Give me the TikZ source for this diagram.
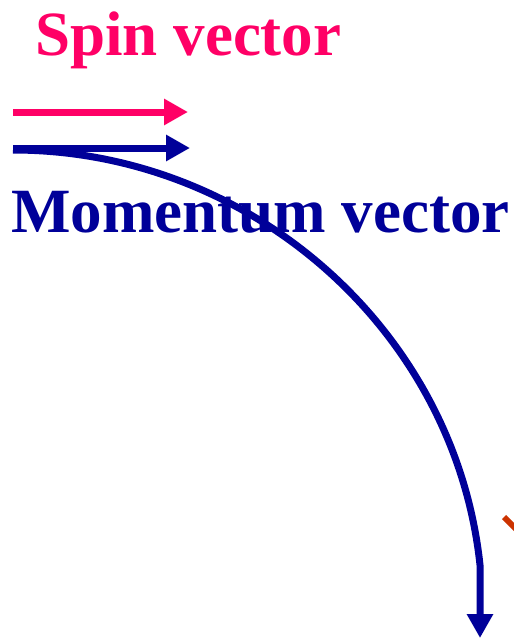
\documentclass[tikz,border=0pt]{standalone}
\usepackage{fontspec}
\setmainfont{Liberation Serif}
\usetikzlibrary{arrows.meta}
\definecolor{spinpink}{RGB}{255,0,102}
\definecolor{momblue}{RGB}{0,0,153}
\definecolor{rustred}{RGB}{204,51,0}
\tikzset{
  bigtext/.style={inner sep=0pt, font=\fontsize{63}{70}\selectfont\bfseries},
  vecarrow/.style={line width=7pt, -{Triangle[length=24pt,width=25pt]}},
}
\begin{document}
\begin{tikzpicture}[x=1pt,y=-1pt]
  \useasboundingbox (0,0) rectangle (514,640);
  % labels
  \node[bigtext, text=spinpink, anchor=base west] (spin) at (35,55) {Spin vector};
  \node[bigtext, text=momblue, anchor=base west] (mom) at (11,232) {Momentum vector};

  % end points of the vectors
  \coordinate (s0) at (13,112);
  \coordinate (s1) at (188,112);
  \coordinate (m0) at (13,148);
  \coordinate (m1) at (190,148);
  \coordinate (c0) at (13,150);
  \coordinate (c1) at (480,565);
  \coordinate (c2) at (480,638);

  \draw[vecarrow, spinpink] (s0) -- (s1);
  \draw[vecarrow, momblue] (m0) -- (m1);
  \draw[vecarrow, momblue] (c0) .. controls (250,150) and (455,330) .. (c1) -- (c2);

  % cut-off mark at the right edge
  \coordinate (r0) at (504,517);
  \coordinate (r1) at (518,531);
  \draw[rustred, line width=6pt] (r0) -- (r1);
\end{tikzpicture}
\end{document}
